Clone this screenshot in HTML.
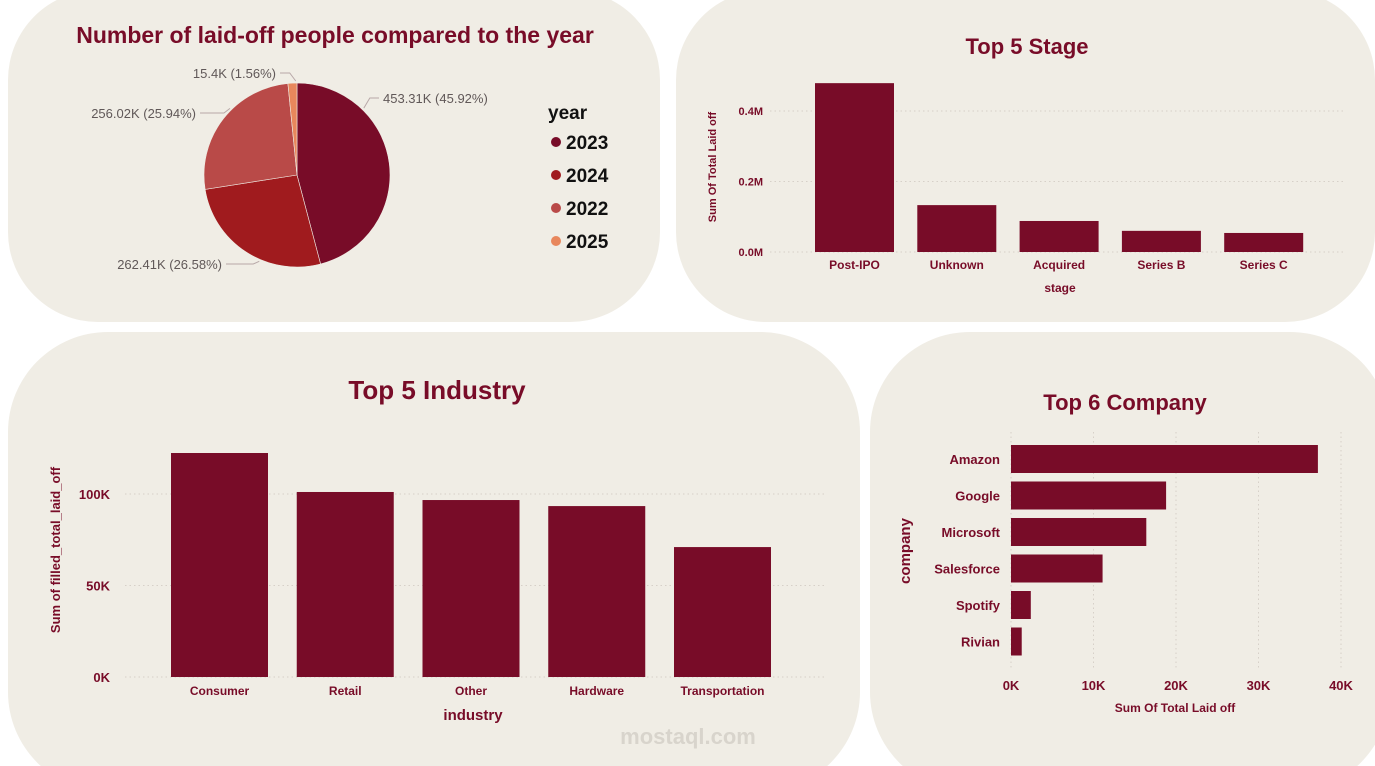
<!DOCTYPE html>
<html><head><meta charset="utf-8">
<style>
body{margin:0;width:1375px;height:766px;background:#fff;overflow:hidden;font-family:"Liberation Sans",sans-serif;}
svg{position:absolute;left:0;top:0;}
</style></head>
<body>
<svg id="s" width="1375" height="766"></svg>
<script>
// Pie data
const pieYears=['2023','2024','2022','2025'];
const pieValues=[453.31,262.41,256.02,15.4];
const pieLabels=['453.31K (45.92%)','262.41K (26.58%)','256.02K (25.94%)','15.4K (1.56%)'];
// Stage data
const stageCats=['Post-IPO','Unknown','Acquired','Series B','Series C'];
const stageVals=[0.479,0.133,0.088,0.060,0.054];
const stageTicks=[0,0.2,0.4];
const stageTickLabels=['0.0M','0.2M','0.4M'];
// Industry data
const indCats=['Consumer','Retail','Other','Hardware','Transportation'];
const indVals=[122.4,101.1,96.7,93.4,71.0];
const indTicks=[0,50,100];
const indTickLabels=['0K','50K','100K'];
// Company data
const compCats=['Amazon','Google','Microsoft','Salesforce','Spotify','Rivian'];
const compVals=[37.2,18.8,16.4,11.1,2.4,1.3];
const compTicks=[0,10,20,30,40];
const compTickLabels=['0K','10K','20K','30K','40K'];

const NS='http://www.w3.org/2000/svg';
const S=document.getElementById('s');
const C='#780c28';
function el(t,a,txt,p){const e=document.createElementNS(NS,t);for(const k in a)e.setAttribute(k,a[k]);if(txt!=null)e.textContent=txt;(p||S).appendChild(e);return e;}
function panel(x,y,w,h,r,name){const e=el('rect',{x:x,y:y,width:w,height:h,rx:r,fill:'#f0ede5'});

}
panel(8,-10,652,332,90,'pie-panel');
panel(676,-10,699,332,90,'stage-panel');
panel(8,332,852,460,100,'industry-panel');
panel(870,332,520,460,100,'company-panel');

function txt(x,y,s,size,fill,anchor,name,extra){const e=el('text',Object.assign({x:x,y:y,'font-size':size,fill:fill,'text-anchor':anchor||'start','font-weight':'bold'},extra||{}),s);

return e;}

// ---- Pie ----
txt(335,43,'Number of laid-off people compared to the year',23,C,'middle','pie-title');
const pieColors=['#780c28','#a01b1e','#b94a48','#e8875c'];
const cx=297,cy=175,rx=93,ry=92;
const tot=pieValues.reduce((a,b)=>a+b,0);
let ang=0;
const labelPos=[[383,103,'start'],[222,269,'end'],[196,118,'end'],[276,78,'end']];
const leaderAng=[0.78,3.55,5.5,6.27];
pieValues.forEach((v,i)=>{
  const a0=ang,a1=ang+v/tot*2*Math.PI;ang=a1;
  const x0=cx+rx*Math.sin(a0),y0=cy-ry*Math.cos(a0),x1=cx+rx*Math.sin(a1),y1=cy-ry*Math.cos(a1);
  const large=(a1-a0)>Math.PI?1:0;
  const p=el('path',{d:`M${cx},${cy}L${x0},${y0}A${rx},${ry} 0 ${large} 1 ${x1},${y1}Z`,fill:pieColors[i],stroke:'#f0ede5','stroke-width':0.6});
  
  
});
pieLabels.forEach((l,i)=>{
  const am=leaderAng[i];
  const ex=cx+(rx+2)*Math.sin(am),ey=cy-(ry+2)*Math.cos(am);
  const lp=labelPos[i];
  const lx=lp[2]==='start'?lp[0]-4:lp[0]+4;
  const ly=lp[1]-5;
  const mx=lp[2]==='start'?ex+6:ex-6;
  el('polyline',{points:`${ex},${ey} ${mx},${ly} ${lx},${ly}`,fill:'none',stroke:'#b8a8a8','stroke-width':1});
  txt(lp[0],lp[1],l,13,'#605858',lp[2],'pie-label-'+pieYears[i],{'font-weight':'normal'});
});
txt(548,119,'year',19,'#111','start','legend-title');
pieYears.forEach((y,i)=>{
  const yy=142+i*33;
  const c=el('circle',{cx:556,cy:yy,r:5,fill:pieColors[i]});
  
  
  const t=txt(566,yy+7,y,19,'#111','start','legend-entry-'+y);
  
});

// ---- Stage ----
txt(1027,54,'Top 5 Stage',22,C,'middle','stage-title');
const sy0=252,sPx=352.5; const sY=v=>sy0-v*sPx;
const sX=i=>815+i*102.3;
stageTicks.forEach((t,i)=>{
  el('line',{x1:770,x2:1345,y1:sY(t),y2:sY(t),stroke:'#d6d0c8','stroke-dasharray':'1.5 3'});
  txt(763,sY(t)+4,stageTickLabels[i],11,C,'end','stage-y-tick');
});
stageCats.forEach((c,i)=>{
  const r=el('rect',{x:sX(i),y:sY(stageVals[i]),width:79,height:stageVals[i]*sPx,fill:C});
  
  
  txt(sX(i)+39.5,269,c,12,C,'middle','stage-x-tick');
});
txt(1060,292,'stage',12,C,'middle','stage-x-title');
txt(716,167,'Sum Of Total Laid off',11,C,'middle','stage-y-title',{transform:'rotate(-90 716 167)'});

// ---- Industry ----
txt(437,399,'Top 5 Industry',26,C,'middle','industry-title');
const iy0=677,iPx=1.83; const iY=v=>iy0-v*iPx;
const iX=i=>171+i*125.75;
indTicks.forEach((t,i)=>{
  el('line',{x1:125,x2:825,y1:iY(t),y2:iY(t),stroke:'#d6d0c8','stroke-dasharray':'1.5 3'});
  txt(110,iY(t)+5,indTickLabels[i],13,C,'end','industry-y-tick');
});
indCats.forEach((c,i)=>{
  const r=el('rect',{x:iX(i),y:iY(indVals[i]),width:97,height:indVals[i]*iPx,fill:C});
  
  
  txt(iX(i)+48.5,695,c,12,C,'middle','industry-x-tick');
});
txt(473,720,'industry',15,C,'middle','industry-x-title');
txt(60,550,'Sum of filled_total_laid_off',13,C,'middle','industry-y-title',{transform:'rotate(-90 60 550)'});
txt(688,744,'mostaql.com',22,'#d8d4cc','middle','watermark');

// ---- Company ----
txt(1125,410,'Top 6 Company',22,C,'middle','company-title');
const cx0=1011,cPx=8.25; const cX=v=>cx0+v*cPx;
const cY=i=>445+i*36.5;
compTicks.forEach((t,i)=>{
  el('line',{x1:cX(t),x2:cX(t),y1:432,y2:668,stroke:'#d6d0c8','stroke-dasharray':'1.5 3'});
  txt(cX(t),690,compTickLabels[i],13,C,'middle','company-x-tick');
});
compCats.forEach((c,i)=>{
  const r=el('rect',{x:cx0,y:cY(i),width:compVals[i]*cPx,height:28,fill:C});
  
  
  txt(1000,cY(i)+19,c,13,C,'end','company-y-tick');
});
txt(1175,712,'Sum Of Total Laid off',12,C,'middle','company-x-title');
txt(910,551,'company',15,C,'middle','company-y-title',{transform:'rotate(-90 910 551)'});
</script>
</body></html>
